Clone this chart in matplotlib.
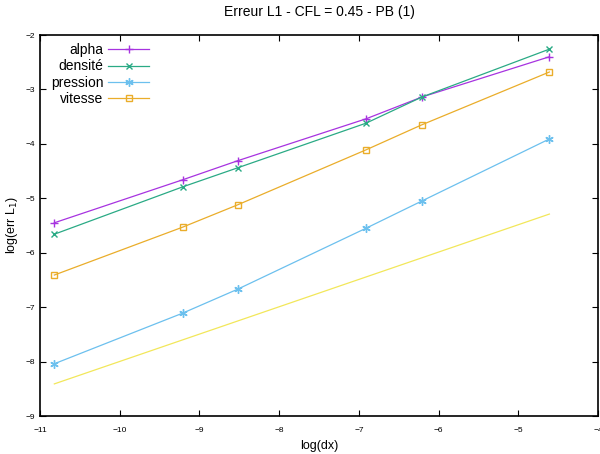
import numpy as np
import matplotlib
matplotlib.use("Agg")
import matplotlib.pyplot as plt

plt.rcParams['font.family'] = ['Liberation Sans', 'DejaVu Sans']

# log(dx) pour dx = 1/50000 ... 1/100
log_dx = [-10.82, -9.21, -8.52, -6.91, -6.21, -4.61]

alpha = [-5.45, -4.66, -4.31, -3.54, -3.14, -2.40]
densite = [-5.66, -4.79, -4.44, -3.62, -3.14, -2.26]
pression = [-8.04, -7.11, -6.67, -5.55, -5.05, -3.91]
vitesse = [-6.41, -5.53, -5.12, -4.11, -3.65, -2.68]

# droite de pente 1/2
ref_x = [-10.82, -4.61]
ref_y = [-8.41, -5.29]

fig = plt.figure(figsize=(6, 4.54), dpi=100)
ax = fig.add_axes([40/600, 1-416/454, 558/600, 381/454])

ax.plot(log_dx, alpha, color='#a733e0', marker='+', ms=6, lw=0.9, label='alpha')
ax.plot(log_dx, densite, color='#2aaa85', marker='x', ms=5, lw=0.9, label='densité')
ax.plot(log_dx, pression, color='#6cc0ee', marker=(6, 2, 0), ms=6, lw=0.9, label='pression')
ax.plot(log_dx, vitesse, color='#eaad2a', marker='s', ms=5, mfc='none', lw=0.9, label='vitesse')
ax.plot(ref_x, ref_y, color='#f2e75a', lw=0.9)

ax.set_xlim(-11, -4)
ax.set_ylim(-9, -2)
ax.set_xticks(range(-11, -3))
ax.set_yticks(range(-9, -1))
for s in ax.spines.values():
    s.set_linewidth(1.2)
ax.tick_params(direction='in', top=True, right=True, labelsize=6, length=4)
ax.tick_params(axis='x', pad=8)
ax.set_xlabel('log(dx)', fontsize=9)
ax.set_ylabel('log(err L$_1$)', fontsize=9)
ax.set_title('Erreur L1 - CFL = 0.45 - PB (1)', fontsize=10, pad=14)

leg = ax.legend(loc='upper left', frameon=False, markerfirst=False, fontsize=10,
                handlelength=3, borderaxespad=0.2, labelspacing=0.15, handletextpad=0.3,
                bbox_to_anchor=(0.005, 1.0))
leg._legend_box.get_children()[1].get_children()[0].align = 'right'

fig.savefig('out.png', dpi=100)
